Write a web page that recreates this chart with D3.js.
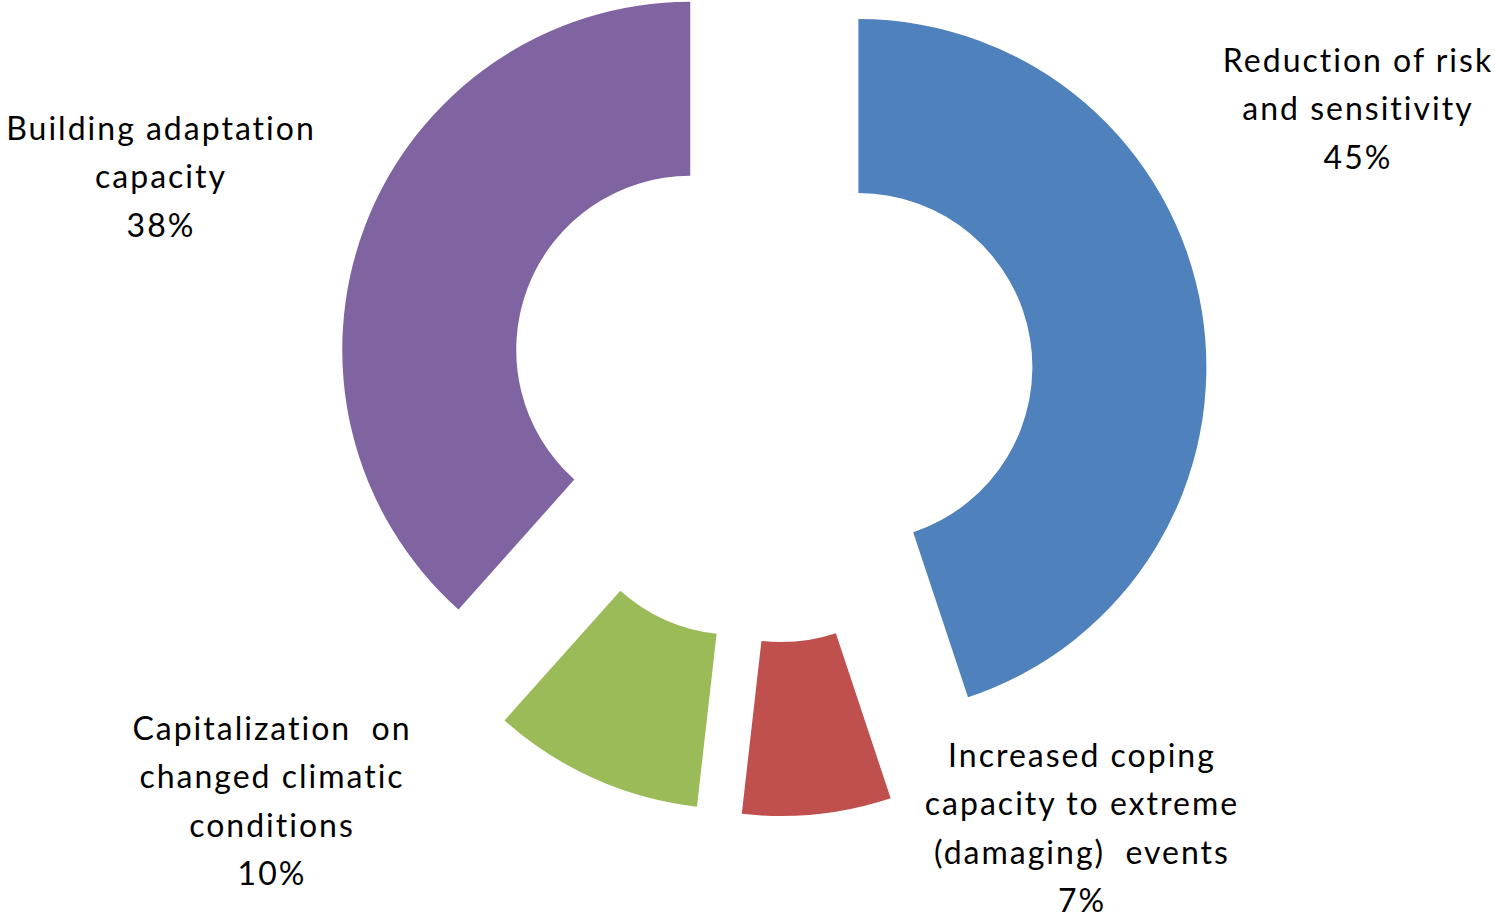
<!DOCTYPE html>
<html>
<head>
<meta charset="utf-8">
<script src="https://cdn.jsdelivr.net/npm/d3@7"></script>
<style>
  body { margin: 0; background: #fff; }
  svg { display: block; }
</style>
</head>
<body>
<div id="chart"></div>
<script>
// chart data (shares; labels show them rounded)
const categories = [
    "Reduction of risk and sensitivity",
    "Increased coping capacity to extreme (damaging) events",
    "Capitalization on changed climatic conditions",
    "Building adaptation capacity"
];
const shares = [44.9, 6.9, 9.8, 38.4];
// label text split in lines, as in the original chart
const labelLines = [
    ["Reduction of risk", "and sensitivity"],
    ["Increased coping", "capacity to extreme", "(damaging)  events"],
    ["Capitalization  on", "changed climatic", "conditions"],
    ["Building adaptation", "capacity"]
];
const sliceColors = ["#4F81BD", "#C0504D", "#9BBB59", "#8064A2"];

// layout
const width = 1495, height = 917;
const center = {x: 772, y: 381};
const outerR = 348, innerR = 174, explode = 87.5;
const lineH = 48.6;
// first-line centre of each label block
const labelAnchors = [[1357, 60], [1081, 755], [271, 728], [160, 128]];

let svg = d3.select("#chart").append("svg")
    .attr("width", width)
    .attr("height", height);

let pie = d3.pie().sort(null).value(d => d).startAngle(0).endAngle(2 * Math.PI);
let arc = d3.arc().innerRadius(innerR).outerRadius(outerR);

let arcs = pie(shares);

let g = svg.append("g")
    .attr("transform", `translate(${center.x}, ${center.y})`);

g.selectAll(".slice")
    .data(arcs)
    .enter().append("path")
    .attr("class", "slice")
    .attr("fill", (d, i) => sliceColors[i])
    .attr("transform", function(d) {
        let mid = (d.startAngle + d.endAngle) / 2;
        return `translate(${explode * Math.sin(mid)}, ${-explode * Math.cos(mid)})`;
    })
    .attr("d", arc);

// data labels
arcs.forEach(function(d, i) {
    let lines = labelLines[i].concat([`${Math.round(shares[i])}%`]);
    let t = svg.append("text")
        .attr("text-anchor", "middle")
        .style("font-family", "Lato, 'Open Sans', sans-serif")
        .style("font-size", "32px")
        .style("letter-spacing", "2px")
        .style("font-variant-ligatures", "none")
        .attr("fill", "#000");
    lines.forEach(function(line, k) {
        t.append("tspan")
            .attr("x", labelAnchors[i][0] + 1)
            .attr("y", labelAnchors[i][1] + k * lineH)
            .attr("dy", "0.36em")
            .style("white-space", "pre")
            .text(line);
    });
});
</script>
</body>
</html>
